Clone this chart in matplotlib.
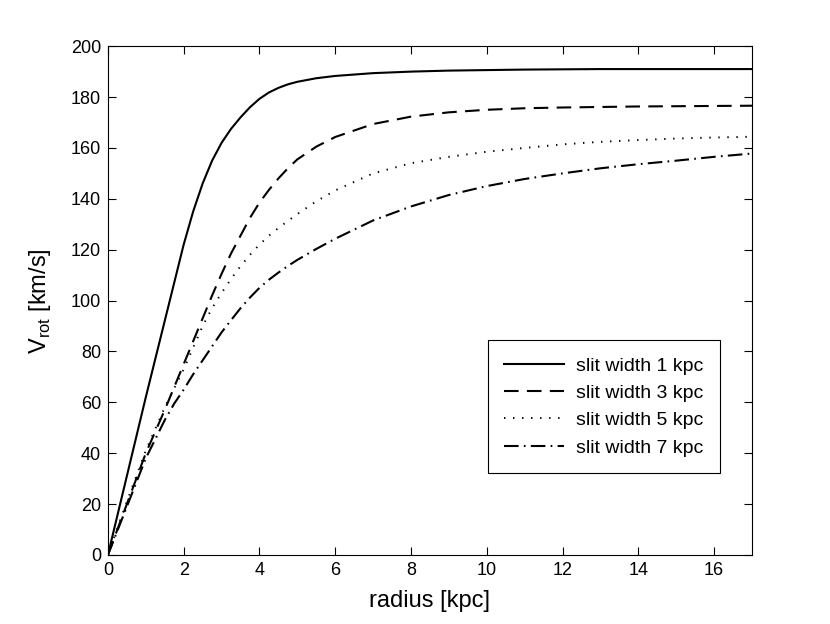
import numpy as np
import matplotlib
matplotlib.use('Agg')
import matplotlib.pyplot as plt

plt.rcParams['font.family'] = ['Liberation Sans', 'DejaVu Sans']
plt.rcParams['mathtext.fontset'] = 'custom'
plt.rcParams['mathtext.rm'] = 'Liberation Sans'
plt.rcParams['lines.scale_dashes'] = False

# radius grid [kpc] and rotation curves [km/s]
radius = [0, 0.5, 1, 1.5, 1.75, 2, 2.25, 2.5, 2.75, 3, 3.25, 3.5, 3.75, 4,
          4.25, 4.5, 4.75, 5, 5.5, 6, 7, 8, 9, 10, 11, 12, 13, 14, 15, 16, 17]
v_slit1 = [0, 31, 62, 92, 107, 122, 135, 146, 155, 162, 167.5, 172, 176, 179.3,
           181.8, 183.6, 185, 186, 187.4, 188.3, 189.4, 190.0, 190.4, 190.6, 190.8,
           190.9, 191, 191, 191, 191, 191]
v_slit3 = [0, 20, 40, 57, 66, 75, 84, 93, 102, 110.5, 118.5, 125.5, 132.5, 138.5,
           143.5, 148, 152, 155.5, 160.5, 164.3, 169.4, 172.3, 174, 175, 175.6,
           175.9, 176.1, 176.3, 176.4, 176.5, 176.6]
v_slit5 = [0, 21, 41, 58, 65.5, 73, 81.5, 90, 97, 103, 108.5, 113.5, 118, 122,
           125.5, 128.5, 131.3, 134, 139, 143.3, 150, 154, 156.5, 158.5, 160,
           161.4, 162.4, 163.1, 163.7, 164.1, 164.4]
v_slit7 = [0, 19, 38, 53, 59.5, 65, 71, 76.5, 82, 87.5, 92.3, 97, 101.2, 105,
           108.2, 111, 113.6, 116, 120.3, 124.3, 131.5, 137, 141.5, 145, 147.8,
           150, 152, 153.6, 155, 156.5, 157.8]

labels = ['slit width 1 kpc', 'slit width 3 kpc', 'slit width 5 kpc', 'slit width 7 kpc']

fig = plt.figure(figsize=(8.3, 6.24), dpi=100)
ax = fig.add_axes([0.130, 0.1106, 0.776, 0.8154])

ax.plot(radius, v_slit1, color='k', lw=1.5, ls='-', label=labels[0])
ax.plot(radius, v_slit3, color='k', lw=1.5, ls=(0, (10.5, 6)), label=labels[1])
ax.plot(radius, v_slit5, color='k', lw=1.4, ls=(0, (1, 5.5)), label=labels[2])
ax.plot(radius, v_slit7, color='k', lw=1.5, ls=(0, (10.5, 3.8, 1.2, 3.8)), label=labels[3])

ax.set_xlim(0, 17)
ax.set_ylim(0, 200)
ax.set_xticks(np.arange(0, 17, 2))
ax.set_yticks(np.arange(0, 201, 20))
ax.tick_params(direction='in', top=True, right=True, length=6, width=0.8,
               labelsize=13, pad=5)
for s in ax.spines.values():
    s.set_linewidth(0.8)

ax.set_xlabel('radius [kpc]', fontsize=17, labelpad=8)
ax.set_ylabel(r'V$_\mathrm{rot}$ [km/s]', fontsize=17, labelpad=13)

leg = ax.legend(loc='lower right', bbox_to_anchor=(0.950, 0.161), fontsize=14,
                handlelength=3.1, handletextpad=0.6, borderpad=0.85,
                labelspacing=0.5, fancybox=False, framealpha=1,
                edgecolor='k', borderaxespad=0)
leg.get_frame().set_linewidth(0.8)

fig.savefig('out.png', dpi=100)
